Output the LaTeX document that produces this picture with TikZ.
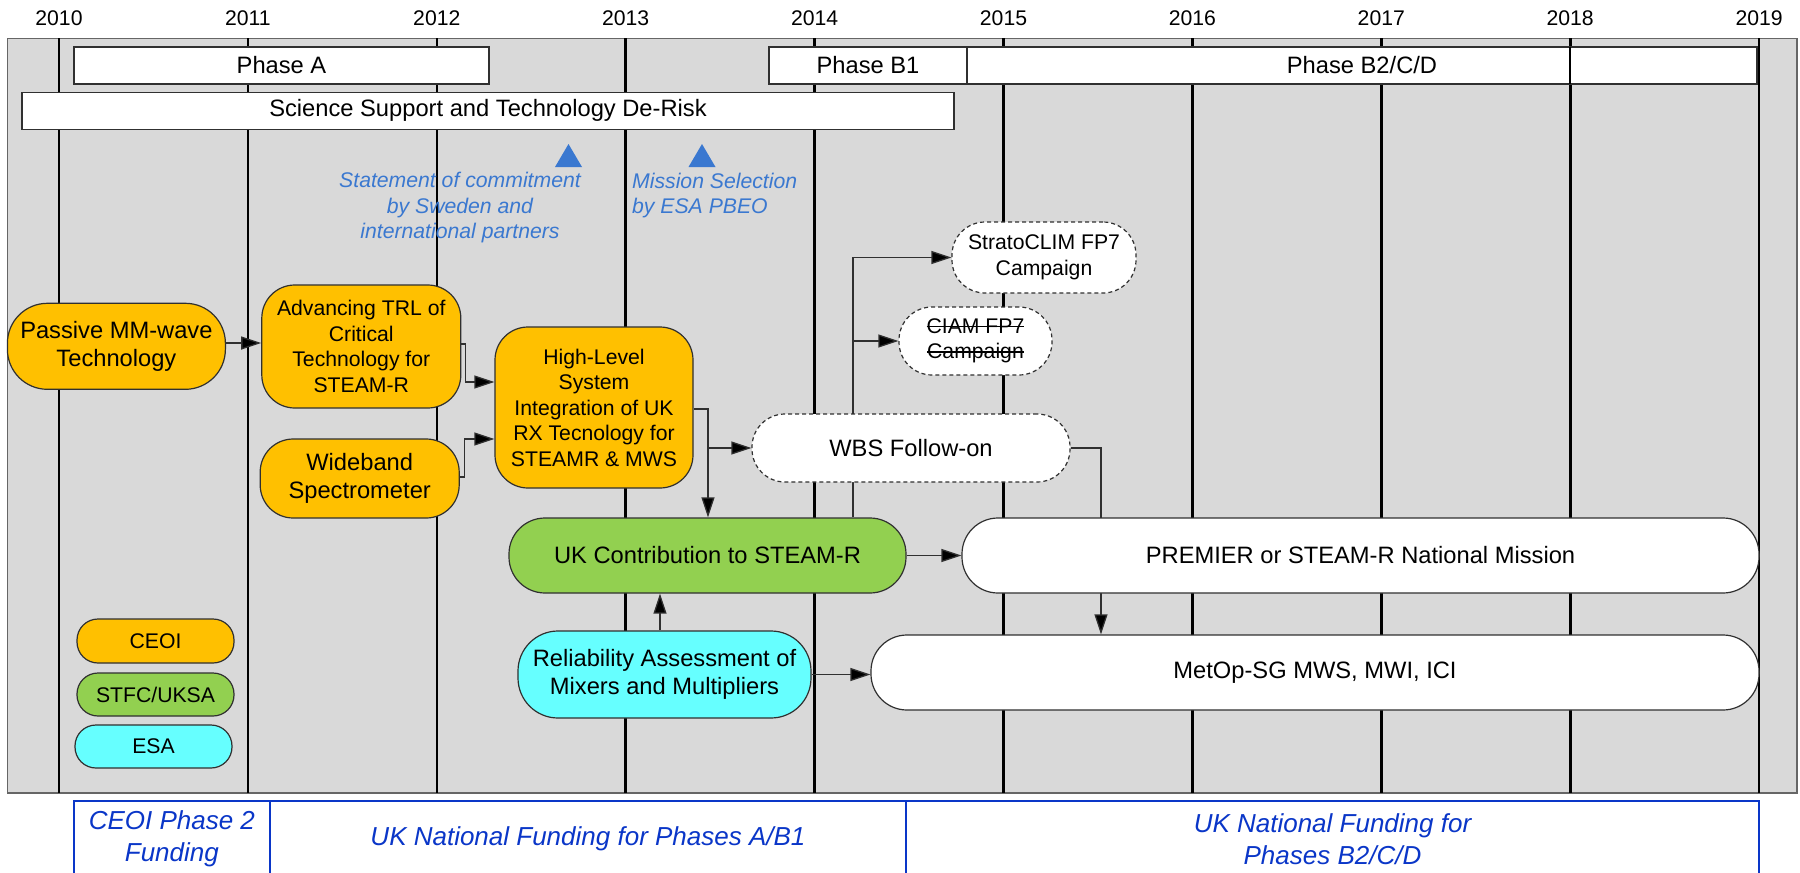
\documentclass[tikz,border=0pt]{standalone}
\usepackage{fontspec}
\setmainfont{Liberation Sans}
\usetikzlibrary{arrows.meta}

\definecolor{ceoi}{HTML}{FFC000}
\definecolor{stfc}{HTML}{92D050}
\definecolor{esa}{HTML}{66FFFF}
\definecolor{gridbg}{HTML}{D9D9D9}
\definecolor{noteblue}{HTML}{3A78D0}
\definecolor{fundblue}{HTML}{0A36C8}
\definecolor{edgegray}{HTML}{303030}

\pgfdeclarelayer{grid}
\pgfdeclarelayer{edges}
\pgfsetlayers{grid,edges,main}

\newcommand\bigfont{\fontsize{23.7}{28.3}\selectfont}
\newcommand\smallfont{\fontsize{21.2}{25.5}\selectfont}
\newcommand\fundfont{\fontsize{26}{31.5}\selectfont}
\newlength\crosslen
\newcommand\crossout[1]{\settowidth{\crosslen}{#1}\rlap{\rule[0.3em]{\crosslen}{1.5pt}}#1}

\tikzset{
  yearline/.style={line width=2.6pt, black},
  yearlabel/.style={font=\smallfont, inner sep=0pt},
  phasebox/.style={draw=edgegray, line width=1.2pt, fill=white, inner sep=0pt, font=\bigfont},
  proc/.style={draw=edgegray, line width=1.2pt, rounded corners=33pt, align=center, inner sep=0pt, font=\bigfont},
  pill/.style={proc, rounded corners=36pt},
  legend/.style={proc, rounded corners=21pt, font=\smallfont},
  followon/.style={proc, fill=white, dash pattern=on 4pt off 3pt, rounded corners=33pt},
  conn/.style={draw=edgegray, line width=1.3pt, -{Triangle[length=20pt,width=13pt,fill=black]}},
  note/.style={text=noteblue, font=\smallfont\itshape, inner sep=0pt},
  fundbox/.style={draw=fundblue, line width=2pt, fill=white, align=center, inner sep=0pt,
    minimum height=76pt, text=fundblue, font=\fundfont\itshape},
}

\begin{document}
\begin{tikzpicture}[x=1pt,y=-1pt]
\useasboundingbox (0,0) rectangle (1800,873);

% timeline background
\begin{pgfonlayer}{grid}
\fill[gridbg] (7.3,38.3) rectangle (1797,793);
\draw[black!60, line width=1.2pt] (7.3,38.3) rectangle (1797,793);
\foreach \yr [count=\i from 0] in {2010,...,2019} {
  \draw[yearline] ({59+188.9*\i},38.3) -- ({59+188.9*\i},793);
}
\end{pgfonlayer}
\foreach \yr [count=\i from 0] in {2010,...,2019} {
  \node[yearlabel] (y\yr) at ({59+188.9*\i},18) {\yr};
}

% phases
\node[phasebox, minimum width=415pt, minimum height=37pt] (phaseA) at (281.5,65.5) {Phase A};
\node[phasebox, minimum width=198pt, minimum height=37pt] (phaseB1) at (868,65.5) {Phase B1};
\node[phasebox, minimum width=790pt, minimum height=37pt] (phaseB2) at (1362,65.5) {Phase B2/C/D};
\draw[yearline] (1570,46.7) -- (1570,84.3);
\node[phasebox, minimum width=932pt, minimum height=37pt] (derisk) at (488,110.8) {Science Support and Technology De-Risk};

% milestones
\fill[noteblue] (568.5,144) -- (582,167) -- (555,167) -- cycle;
\fill[noteblue] (702,144) -- (715.5,167) -- (688.5,167) -- cycle;
\node[note, align=center] (commit) at (460,208) {Statement of commitment\\by Sweden and\\international partners};
\node[note, align=left, anchor=west] (select) at (632,195.5) {Mission Selection\\by ESA PBEO};

% activities
\node[proc, fill=ceoi, minimum width=218pt, minimum height=86pt, rounded corners=40pt] (passive) at (116.4,346.3) {Passive MM-wave\\Technology};
\node[proc, fill=ceoi, minimum width=199pt, minimum height=123pt, font=\smallfont] (advancing) at (361.3,346.5) {Advancing TRL of\\Critical\\Technology for\\STEAM-R};
\node[proc, fill=ceoi, minimum width=199pt, minimum height=79pt] (wideband) at (359.7,478.5) {Wideband\\Spectrometer};
\node[proc, fill=ceoi, minimum width=198pt, minimum height=161pt, font=\smallfont] (highlevel) at (594,407.5) {High-Level\\System\\Integration of UK\\RX Tecnology for\\STEAMR \& MWS};
\node[pill, fill=stfc, minimum width=397pt, minimum height=75pt] (uk) at (707.5,555.5) {UK Contribution to STEAM-R};
\node[proc, fill=esa, minimum width=293pt, minimum height=87pt, rounded corners=40pt] (reliab) at (664.5,674.5) {Reliability Assessment of\\Mixers and Multipliers};
\node[pill, fill=white, minimum width=797pt, minimum height=75pt] (premier) at (1360.5,555.5) {PREMIER or STEAM-R National Mission};
\node[pill, fill=white, minimum width=888pt, minimum height=75pt] (metop) at (1315,672.5) {MetOp-SG MWS, MWI, ICI};
\node[followon, minimum width=184pt, minimum height=71pt, font=\smallfont] (strato) at (1044,257.5) {StratoCLIM FP7\\Campaign};
\node[followon, minimum width=153pt, minimum height=68pt, font=\smallfont] (ciam) at (975.5,341) {\crossout{CIAM FP7}\\\crossout{Campaign}};
\node[followon, minimum width=318pt, minimum height=68pt] (wbs) at (911,448) {WBS Follow-on};

% legend
\node[legend, fill=ceoi, minimum width=157pt, minimum height=44pt] (keyceoi) at (155.5,641) {CEOI};
\node[legend, fill=stfc, minimum width=157pt, minimum height=43pt] (keystfc) at (155.5,694.5) {STFC/UKSA};
\node[legend, fill=esa, minimum width=157pt, minimum height=43pt] (keyesa) at (153.5,746.5) {ESA};

% connectors
\coordinate (hlsplit) at (708,448);
\coordinate (ciamsplit) at (853,341);
\begin{pgfonlayer}{edges}
\draw[conn] (passive.east |- 0,343) -- (advancing.west |- 0,343);
\draw[conn] (advancing.east |- 0,344) -- ++(4,0) |- (highlevel.west |- 0,382);
\draw[conn] (wideband.east |- 0,477) -- ++(5,0) |- (highlevel.west |- 0,439);
\draw[conn] (highlevel.east |- 0,409) -| (uk.north -| hlsplit);
\draw[conn] (hlsplit) -- (wbs.west);
\draw[conn] (uk.north -| ciamsplit) |- (strato.west);
\draw[conn] (ciamsplit) -- (ciam.west);
\draw[conn] (uk.east) -- (premier.west);
\draw[conn] (wbs.east) -| (metop.north -| 1101,0);
\draw[conn] (reliab.north -| 660,0) -- (uk.south -| 660,0);
\draw[conn] (reliab.east) -- (reliab.east -| metop.west);
\end{pgfonlayer}

% funding
\node[fundbox, minimum width=196.3pt] (fundceoi) at (171.85,839) {CEOI Phase 2\\Funding};
\node[fundbox, minimum width=636pt] (fundab) at (588,839) {UK National Funding for Phases A/B1};
\node[fundbox, minimum width=853pt] (fundcd) at (1332.5,839) {UK National Funding for\\Phases B2/C/D};
\end{tikzpicture}
\end{document}
